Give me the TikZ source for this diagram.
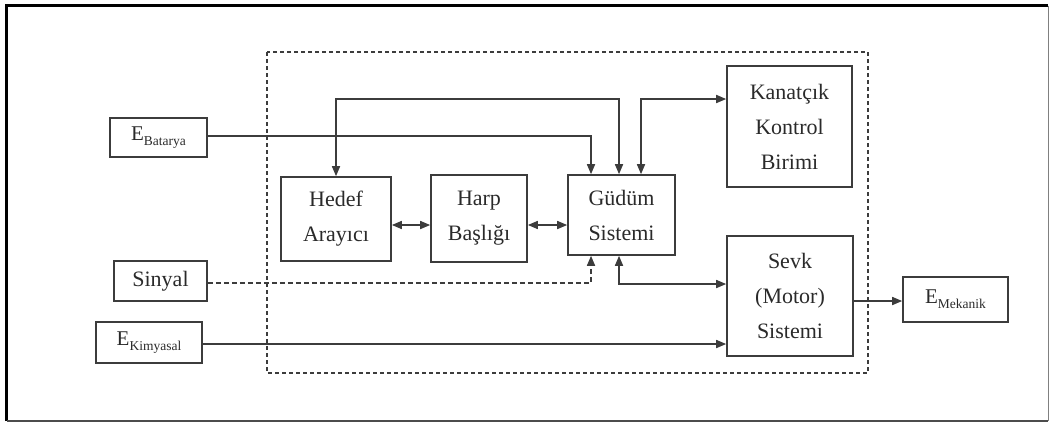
\documentclass[tikz,border=0pt]{standalone}
\usepackage{fontspec}
\setmainfont{Liberation Serif}
\usetikzlibrary{arrows.meta}
\definecolor{ln}{HTML}{3C3C3C}
\definecolor{tx}{HTML}{2A2A2A}
\tikzset{
  blk/.style={draw=ln, line width=1.6pt, rectangle, inner sep=0pt, text=tx,
    align=center, font=\fontsize{22}{35}\selectfont},
  conn/.style={draw=ln, line width=1.6pt, -{Triangle[length=10pt,width=8pt]}},
  bconn/.style={draw=ln, line width=1.6pt, {Triangle[length=10pt,width=8pt]}-{Triangle[length=10pt,width=8pt]}},
  dconn/.style={conn, dash pattern=on 5pt off 3pt},
  sysbox/.style={draw=ln, line width=1.4pt, dash pattern=on 4pt off 3pt}
}
\newcommand{\Esub}[1]{{\fontsize{21}{24}\selectfont E}\raisebox{-5pt}{\fontsize{13.5}{14}\selectfont #1}}
\begin{document}
\begin{tikzpicture}[x=1pt,y=-1pt]
\useasboundingbox (0,0) rectangle (1050,423);
% outer frame
\draw[black, line width=3pt] (6.5,421) -- (6.5,5.5) -- (1048,5.5);
\draw[black!70, line width=2pt] (6.5,421) -- (1048,421);
\draw[black!50, line width=1pt] (1048,5.5) -- (1048,421);
% system boundary
\draw[sysbox] (267,52) rectangle (868,373);
% nodes
\node[blk, minimum width=97pt, minimum height=39pt] (EB) at (158.5,137.5) {\Esub{Batarya}};
\node[blk, minimum width=93pt, minimum height=40pt] (SI) at (160.5,281) {Sinyal};
\node[blk, minimum width=106pt, minimum height=41pt] (EK) at (149,342.5) {\Esub{Kimyasal}};
\node[blk, minimum width=110pt, minimum height=84pt] (HA) at (336,219) {Hedef\\Arayıcı};
\node[blk, minimum width=96pt, minimum height=87pt] (HB) at (479,218.5) {Harp\\Başlığı};
\node[blk, minimum width=107pt, minimum height=80pt] (GS) at (621.5,215) {Güdüm\\Sistemi};
\node[blk, minimum width=125pt, minimum height=121pt] (KK) at (789.5,126.5) {Kanatçık\\Kontrol\\Birimi};
\node[blk, minimum width=126pt, minimum height=120pt] (SV) at (790,296) {Sevk\\(Motor)\\Sistemi};
\node[blk, minimum width=105pt, minimum height=45pt] (EM) at (955.5,299.5) {\Esub{Mekanik}};
\coordinate (t1) at (336,99);
% connectors
\draw[conn] (EB.east |- 0,136) -| ([xshift=-30.5pt]GS.north);
\draw[bconn] (HA.north) |- (t1) -| ([xshift=-2.5pt]GS.north);
\draw[bconn] ([xshift=19.5pt]GS.north) |- (KK.west |- t1);
\draw[bconn] (HA.east |- 0,225) -- (HB.west |- 0,225);
\draw[bconn] (HB.east |- 0,225) -- (GS.west |- 0,225);
\draw[dconn] (SI.east |- 0,283) -| ([xshift=-30.5pt]GS.south);
\draw[bconn] ([xshift=-2.5pt]GS.south) |- (SV.west |- 0,284);
\draw[conn] (EK.east |- 0,344) -- (SV.west |- 0,344);
\draw[conn] (SV.east |- 0,301) -- (EM.west |- 0,301);
\end{tikzpicture}
\end{document}
